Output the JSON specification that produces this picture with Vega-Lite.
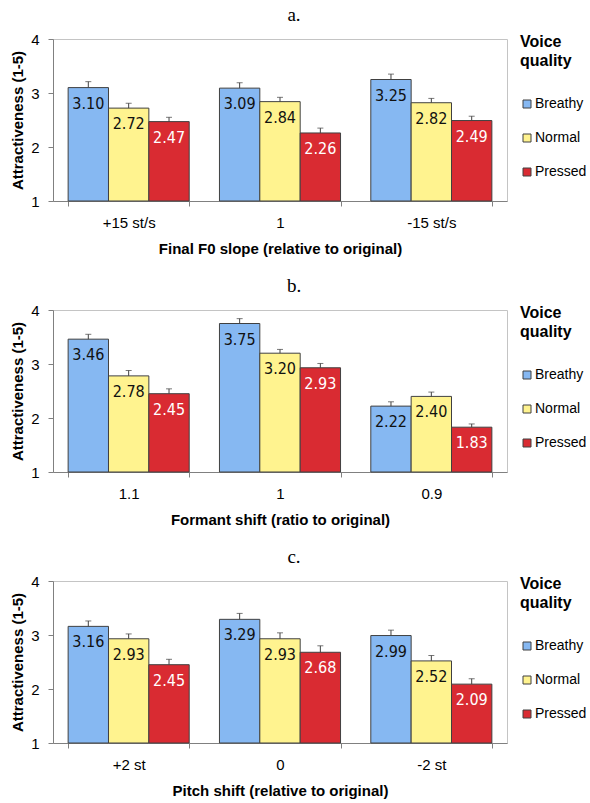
{
  "$schema": "https://vega.github.io/schema/vega-lite/v6.json",
  "padding": {"left": 10, "top": 5, "right": 0, "bottom": 0},
  "datasets": {
    "a": [
      {"cond": "+15 st/s", "quality": "Breathy", "mean": 3.10, "hi": 3.21},
      {"cond": "+15 st/s", "quality": "Normal", "mean": 2.72, "hi": 2.81},
      {"cond": "+15 st/s", "quality": "Pressed", "mean": 2.47, "hi": 2.55},
      {"cond": "1", "quality": "Breathy", "mean": 3.09, "hi": 3.19},
      {"cond": "1", "quality": "Normal", "mean": 2.84, "hi": 2.92},
      {"cond": "1", "quality": "Pressed", "mean": 2.26, "hi": 2.35},
      {"cond": "-15 st/s", "quality": "Breathy", "mean": 3.25, "hi": 3.35},
      {"cond": "-15 st/s", "quality": "Normal", "mean": 2.82, "hi": 2.90},
      {"cond": "-15 st/s", "quality": "Pressed", "mean": 2.49, "hi": 2.57}
    ],
    "b": [
      {"cond": "1.1", "quality": "Breathy", "mean": 3.46, "hi": 3.55},
      {"cond": "1.1", "quality": "Normal", "mean": 2.78, "hi": 2.88},
      {"cond": "1.1", "quality": "Pressed", "mean": 2.45, "hi": 2.54},
      {"cond": "1", "quality": "Breathy", "mean": 3.75, "hi": 3.84},
      {"cond": "1", "quality": "Normal", "mean": 3.20, "hi": 3.27},
      {"cond": "1", "quality": "Pressed", "mean": 2.93, "hi": 3.01},
      {"cond": "0.9", "quality": "Breathy", "mean": 2.22, "hi": 2.30},
      {"cond": "0.9", "quality": "Normal", "mean": 2.40, "hi": 2.48},
      {"cond": "0.9", "quality": "Pressed", "mean": 1.83, "hi": 1.89}
    ],
    "c": [
      {"cond": "+2 st", "quality": "Breathy", "mean": 3.16, "hi": 3.26},
      {"cond": "+2 st", "quality": "Normal", "mean": 2.93, "hi": 3.02},
      {"cond": "+2 st", "quality": "Pressed", "mean": 2.45, "hi": 2.55},
      {"cond": "0", "quality": "Breathy", "mean": 3.29, "hi": 3.40},
      {"cond": "0", "quality": "Normal", "mean": 2.93, "hi": 3.04},
      {"cond": "0", "quality": "Pressed", "mean": 2.68, "hi": 2.80},
      {"cond": "-2 st", "quality": "Breathy", "mean": 2.99, "hi": 3.09},
      {"cond": "-2 st", "quality": "Normal", "mean": 2.52, "hi": 2.62},
      {"cond": "-2 st", "quality": "Pressed", "mean": 2.09, "hi": 2.19}
    ]
  },
  "config": {
    "font": "Liberation Sans",
    "view": {"stroke": "#c4c4c4", "strokeWidth": 1},
    "axis": {
      "labelFont": "Liberation Sans", "labelFontSize": 15, "labelColor": "#000000",
      "titleFont": "Liberation Sans", "titleFontSize": 15, "titleFontWeight": "bold", "titleColor": "#000000",
      "domainColor": "#808080", "tickColor": "#808080", "grid": false, "tickSize": 5
    },
    "legend": {
      "titleFont": "Liberation Sans", "titleFontSize": 16, "titleFontWeight": "bold", "titleColor": "#000000",
      "titleAnchor": "start", "titleAlign": "left", "titleLineHeight": 19, "titlePadding": 28,
      "labelFont": "Liberation Sans", "labelFontSize": 14, "labelColor": "#000000", "labelOffset": 1,
      "symbolType": "square", "symbolSize": 64, "symbolStrokeWidth": 1, "symbolStrokeColor": "#404040",
      "rowPadding": 20
    },
    "title": {"font": "Liberation Serif", "fontSize": 19, "fontWeight": "normal", "color": "#000000", "offset": 7}
  },
  "spacing": 19,
  "resolve": {"scale": {"x": "independent", "xOffset": "independent", "color": "independent"}, "legend": {"color": "independent"}},
  "vconcat": [
    {
      "width": 454, "height": 162,
      "title": {"text": "a.", "dx": 14},
      "data": {"name": "a"},
      "encoding": {
        "x": {"field": "cond", "type": "nominal", "sort": ["+15 st/s", "1", "-15 st/s"],
              "scale": {"paddingInner": 0.2, "paddingOuter": 0.1},
              "axis": {"title": "Final F0 slope (relative to original)", "labelAngle": 0, "tickBand": "extent", "labelPadding": 9, "titlePadding": 11}},
        "xOffset": {"field": "quality", "type": "nominal", "sort": ["Breathy", "Normal", "Pressed"], "scale": {"paddingInner": 0, "paddingOuter": 0}}
      },
      "layer": [
        {
          "mark": {"type": "bar", "stroke": "#404040", "strokeWidth": 1},
          "encoding": {
            "y": {"field": "mean", "type": "quantitative", "scale": {"domain": [1, 4], "zero": false, "nice": false},
                  "axis": {"title": "Attractiveness (1-5)", "values": [1, 2, 3, 4], "format": "d", "labelPadding": 9, "titlePadding": 5}},
            "y2": {"datum": 1},
            "color": {"field": "quality", "type": "nominal", "sort": ["Breathy", "Normal", "Pressed"],
                      "scale": {"domain": ["Breathy", "Normal", "Pressed"], "range": ["#86b8f2", "#fff38f", "#d92b32"]},
                      "legend": {"title": ["Voice", "quality"], "orient": "none", "legendX": 467, "legendY": -5}}
          }
        },
        {
          "mark": {"type": "rule", "color": "#404040", "strokeWidth": 1},
          "encoding": {"y": {"field": "mean", "type": "quantitative"}, "y2": {"field": "hi"}}
        },
        {
          "mark": {"type": "tick", "color": "#404040", "thickness": 1, "size": 6, "orient": "horizontal"},
          "encoding": {"y": {"field": "hi", "type": "quantitative"}}
        },
        {
          "mark": {"type": "text", "font": "Liberation Sans Narrow, DejaVu Sans Condensed, Liberation Sans", "fontSize": 16, "baseline": "middle", "dy": 16},
          "encoding": {
            "y": {"field": "mean", "type": "quantitative"},
            "text": {"field": "mean", "type": "quantitative", "format": ".2f"},
            "color": {"condition": {"test": "datum.quality === 'Pressed'", "value": "#ffffff"}, "value": "#111111"}
          }
        }
      ]
    },
    {
      "width": 454, "height": 162,
      "title": {"text": "b.", "dx": 14},
      "data": {"name": "b"},
      "encoding": {
        "x": {"field": "cond", "type": "nominal", "sort": ["1.1", "1", "0.9"],
              "scale": {"paddingInner": 0.2, "paddingOuter": 0.1},
              "axis": {"title": "Formant shift (ratio to original)", "labelAngle": 0, "tickBand": "extent", "labelPadding": 9, "titlePadding": 11}},
        "xOffset": {"field": "quality", "type": "nominal", "sort": ["Breathy", "Normal", "Pressed"], "scale": {"paddingInner": 0, "paddingOuter": 0}}
      },
      "layer": [
        {
          "mark": {"type": "bar", "stroke": "#404040", "strokeWidth": 1},
          "encoding": {
            "y": {"field": "mean", "type": "quantitative", "scale": {"domain": [1, 4], "zero": false, "nice": false},
                  "axis": {"title": "Attractiveness (1-5)", "values": [1, 2, 3, 4], "format": "d", "labelPadding": 9, "titlePadding": 5}},
            "y2": {"datum": 1},
            "color": {"field": "quality", "type": "nominal", "sort": ["Breathy", "Normal", "Pressed"],
                      "scale": {"domain": ["Breathy", "Normal", "Pressed"], "range": ["#86b8f2", "#fff38f", "#d92b32"]},
                      "legend": {"title": ["Voice", "quality"], "orient": "none", "legendX": 467, "legendY": -5}}
          }
        },
        {
          "mark": {"type": "rule", "color": "#404040", "strokeWidth": 1},
          "encoding": {"y": {"field": "mean", "type": "quantitative"}, "y2": {"field": "hi"}}
        },
        {
          "mark": {"type": "tick", "color": "#404040", "thickness": 1, "size": 6, "orient": "horizontal"},
          "encoding": {"y": {"field": "hi", "type": "quantitative"}}
        },
        {
          "mark": {"type": "text", "font": "Liberation Sans Narrow, DejaVu Sans Condensed, Liberation Sans", "fontSize": 16, "baseline": "middle", "dy": 16},
          "encoding": {
            "y": {"field": "mean", "type": "quantitative"},
            "text": {"field": "mean", "type": "quantitative", "format": ".2f"},
            "color": {"condition": {"test": "datum.quality === 'Pressed'", "value": "#ffffff"}, "value": "#111111"}
          }
        }
      ]
    },
    {
      "width": 454, "height": 162,
      "title": {"text": "c.", "dx": 14},
      "data": {"name": "c"},
      "encoding": {
        "x": {"field": "cond", "type": "nominal", "sort": ["+2 st", "0", "-2 st"],
              "scale": {"paddingInner": 0.2, "paddingOuter": 0.1},
              "axis": {"title": "Pitch shift (relative to original)", "labelAngle": 0, "tickBand": "extent", "labelPadding": 9, "titlePadding": 11}},
        "xOffset": {"field": "quality", "type": "nominal", "sort": ["Breathy", "Normal", "Pressed"], "scale": {"paddingInner": 0, "paddingOuter": 0}}
      },
      "layer": [
        {
          "mark": {"type": "bar", "stroke": "#404040", "strokeWidth": 1},
          "encoding": {
            "y": {"field": "mean", "type": "quantitative", "scale": {"domain": [1, 4], "zero": false, "nice": false},
                  "axis": {"title": "Attractiveness (1-5)", "values": [1, 2, 3, 4], "format": "d", "labelPadding": 9, "titlePadding": 5}},
            "y2": {"datum": 1},
            "color": {"field": "quality", "type": "nominal", "sort": ["Breathy", "Normal", "Pressed"],
                      "scale": {"domain": ["Breathy", "Normal", "Pressed"], "range": ["#86b8f2", "#fff38f", "#d92b32"]},
                      "legend": {"title": ["Voice", "quality"], "orient": "none", "legendX": 467, "legendY": -5}}
          }
        },
        {
          "mark": {"type": "rule", "color": "#404040", "strokeWidth": 1},
          "encoding": {"y": {"field": "mean", "type": "quantitative"}, "y2": {"field": "hi"}}
        },
        {
          "mark": {"type": "tick", "color": "#404040", "thickness": 1, "size": 6, "orient": "horizontal"},
          "encoding": {"y": {"field": "hi", "type": "quantitative"}}
        },
        {
          "mark": {"type": "text", "font": "Liberation Sans Narrow, DejaVu Sans Condensed, Liberation Sans", "fontSize": 16, "baseline": "middle", "dy": 16},
          "encoding": {
            "y": {"field": "mean", "type": "quantitative"},
            "text": {"field": "mean", "type": "quantitative", "format": ".2f"},
            "color": {"condition": {"test": "datum.quality === 'Pressed'", "value": "#ffffff"}, "value": "#111111"}
          }
        }
      ]
    }
  ]
}
